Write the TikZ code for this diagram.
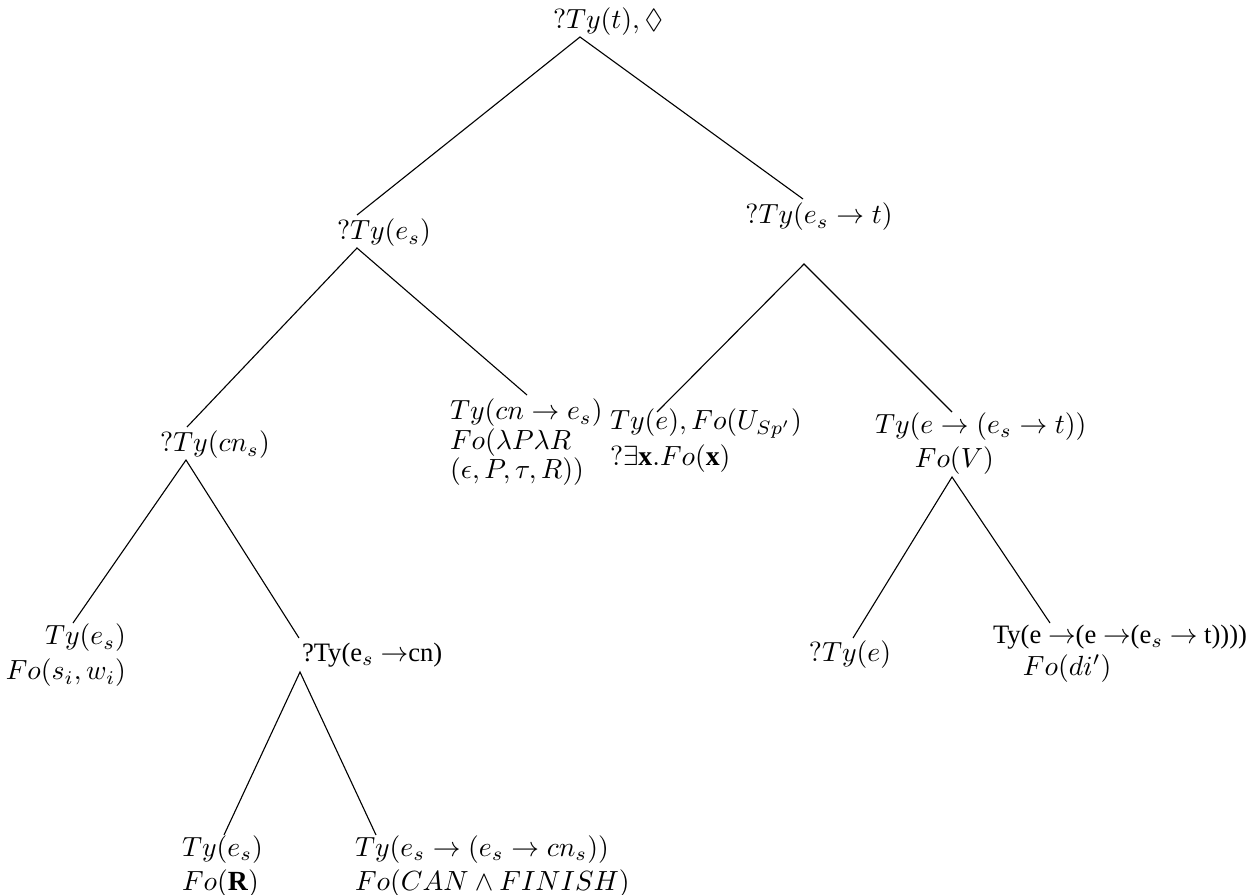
\documentclass[tikz,border=0pt]{standalone}
\usepackage{amssymb}
\usepackage{fontspec}
\newfontfamily\tms{Liberation Serif}
\newcommand{\tmsz}{\fontsize{9.6}{11.6}\selectfont\tms}
\begin{document}
\begin{tikzpicture}[x=0.361pt,y=-0.361pt,
  lbl/.style={inner sep=0pt, outer sep=0pt, font=\fontsize{10}{12}\selectfont},
  edge/.style={draw=black, line width=0.4pt}]
\useasboundingbox (0,0) rectangle (1252,894);
% nodes
\node[lbl] (root) at (608,22) {$?Ty(t), \Diamond$};
\node[lbl] (es) at (384,233) {$?Ty(e_s)$};
\node[lbl] (est) at (819,217) {$?Ty(e_s \rightarrow t)$};
\node[lbl] (cns) at (215,445) {$?Ty(cn_s)$};
\node[lbl, anchor=west, align=left, font=\fontsize{10}{10.65}\selectfont] (cne) at (450,442.5)
  {$Ty(cn \rightarrow e_s)$\\ $Fo(\lambda P \lambda R$\\ $(\epsilon, P, \tau, R))$};
\node[lbl, anchor=west, align=left, font=\fontsize{10}{13}\selectfont] (ue) at (610,441)
  {$Ty(e), Fo(U_{Sp'})$\\ $?\exists${\tms\bfseries x}$.Fo(${\tms\bfseries x}$)$};
\node[lbl, anchor=west, align=left] (efv) at (875,443.5)
  {$Ty(e \rightarrow (e_s \rightarrow t))$\\ \hspace*{14.4pt}$Fo(V)$};
\node[lbl, anchor=east, align=right, font=\fontsize{10}{12.6}\selectfont] (se) at (126,655.5)
  {$Ty(e_s)$\\ $Fo(s_i, w_i)$};
\node[lbl, anchor=west] (ecn) at (302,655) {\tmsz ?Ty(e$_s$ $\rightarrow$cn)};
\node[lbl] (qe) at (850,655) {$?Ty(e)$};
\node[lbl, anchor=west, align=left, font=\fontsize{10}{11.6}\selectfont] (di) at (993,654)
  {\tmsz Ty(e $\rightarrow$(e $\rightarrow$(e$_s$ $\rightarrow$ t))))\\ \hspace*{10.8pt}$Fo(di')$};
\node[lbl, anchor=west, align=left] (rr) at (182,866.5)
  {$Ty(e_s)$\\ $Fo($\textbf{\tms R}$)$};
\node[lbl, anchor=west, align=left] (can) at (355,866.5)
  {$Ty(e_s \rightarrow (e_s \rightarrow cn_s))$\\ $Fo(CAN \wedge FINISH)$};
% connector end points
\coordinate (root-b) at (580,37);
\coordinate (es-t) at (357,215);
\coordinate (es-b) at (357,248);
\coordinate (est-t) at (803,199);
\coordinate (est-b) at (804,264);
\coordinate (cns-t) at (187,427);
\coordinate (cns-b) at (186,460);
\coordinate (cne-t) at (527,395);
\coordinate (ue-t) at (657,412);
\coordinate (efv-t) at (952,412);
\coordinate (efv-b) at (952,477);
\coordinate (se-t) at (73,623);
\coordinate (ecn-t) at (299,638);
\coordinate (ecn-b) at (300,672);
\coordinate (qe-t) at (853,638);
\coordinate (di-t) at (1050,623);
\coordinate (rr-t) at (224,835);
\coordinate (can-t) at (376,835);
% connectors
\draw[edge] (es-t) -- (root-b) -- (est-t);
\draw[edge] (cns-t) -- (es-b) -- (cne-t);
\draw[edge] (ue-t) -- (est-b) -- (efv-t);
\draw[edge] (se-t) -- (cns-b) -- (ecn-t);
\draw[edge] (qe-t) -- (efv-b) -- (di-t);
\draw[edge] (rr-t) -- (ecn-b) -- (can-t);
\end{tikzpicture}
\end{document}
